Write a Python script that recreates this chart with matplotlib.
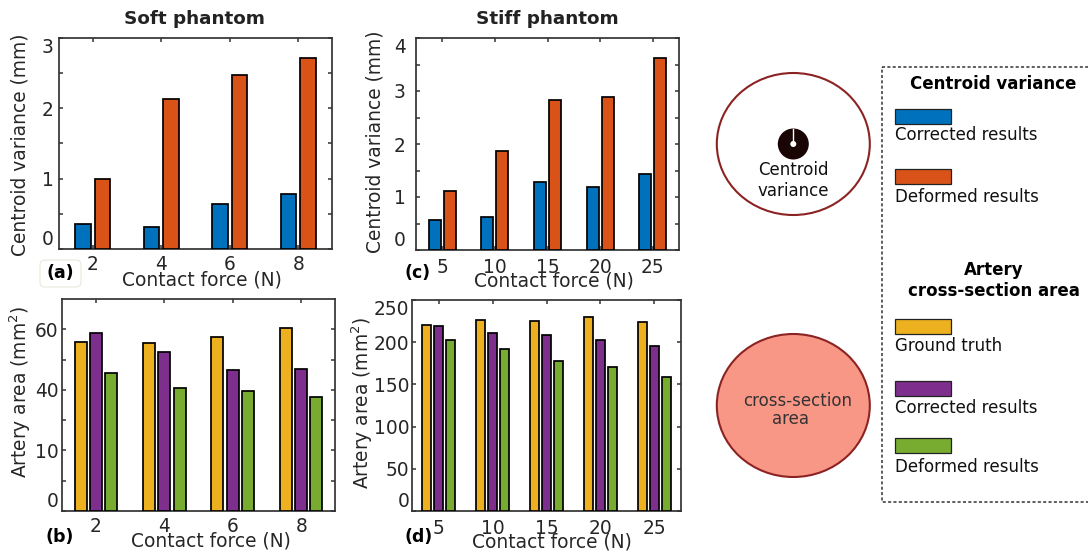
import numpy as np
import matplotlib
matplotlib.use("Agg")
import matplotlib.pyplot as plt
from matplotlib.patches import Ellipse, Rectangle, FancyBboxPatch

plt.rcParams['font.family'] = 'DejaVu Sans'
plt.rcParams['mathtext.default'] = 'regular'

BLUE = '#0072BD'
ORANGE = '#D95319'
YELLOW = '#EDB120'
PURPLE = '#7E2F8E'
GREEN = '#77AC30'
TEXT = '#262626'
AXES = '#333333'
RED = '#8C2323'

force_soft = ['2', '4', '6', '8']
force_stiff = ['5', '10', '15', '20', '25']

soft_var_corrected = [0.35, 0.31, 0.645, 0.78]
soft_var_deformed = [0.995, 2.13, 2.48, 2.71]
stiff_var_corrected = [0.56, 0.625, 1.29, 1.19, 1.44]
stiff_var_deformed = [1.11, 1.87, 2.83, 2.88, 3.63]

soft_area_truth = [55.7, 55.6, 57.3, 60.3]
soft_area_corrected = [58.7, 52.5, 46.6, 46.9]
soft_area_deformed = [45.5, 40.7, 39.7, 37.8]
stiff_area_truth = [220, 226.3, 225, 229.9, 224]
stiff_area_corrected = [219, 211.3, 209, 203, 195.5]
stiff_area_deformed = [203, 192.3, 177.7, 170.6, 158.4]

W, H = 1088, 554
FS = 13.4
FS_SMALL = 12


def px_axes(x0, y0, x1, y1):
    return fig.add_axes([x0 / W, 1 - y1 / H, (x1 - x0) / W, (y1 - y0) / H])


def draw_panel(ax, labels, series, colors, width, step, ymax, yticks, yticklabels, ypad, xpad):
    x = np.arange(1, len(labels) + 1)
    n = len(series)
    for i, (vals, col) in enumerate(zip(series, colors)):
        ax.bar(x + (i - (n - 1) / 2) * step, vals, width, color=col, edgecolor='black', linewidth=1.25, zorder=3)
    ax.set_xlim(0.505, len(labels) + 0.495)
    ax.set_ylim(0, ymax)
    ax.set_xticks(x)
    ax.set_xticklabels(labels)
    ax.set_yticks(yticks)
    ax.set_yticklabels(yticklabels)
    ax.tick_params(direction='in', length=3, width=1.1, top=True, right=True, color=AXES,
                   labelcolor=TEXT, labelsize=FS)
    ax.tick_params(axis='y', pad=ypad)
    ax.tick_params(axis='x', pad=xpad)
    for s in ax.spines.values():
        s.set_linewidth(1.25)
        s.set_color(AXES)
    # end labels sit inside the axis range in the original
    ticklabs = ax.get_yticklabels()
    ticklabs[0].set_va('bottom')
    if yticks[-1] == ymax:
        ticklabs[-1].set_va('top')


fig = plt.figure(figsize=(W / 100, H / 100), dpi=100)

ax_a = px_axes(59, 38, 332, 249)
draw_panel(ax_a, force_soft, [soft_var_corrected, soft_var_deformed], [BLUE, ORANGE], 0.225, 0.287,
           3, [0, 0.5, 1, 1.5, 2, 2.5, 3], ['0', '', '1', '', '2', '', '3'], 4, 4.5)
ax_c = px_axes(416, 38, 679, 250)
draw_panel(ax_c, force_stiff, [stiff_var_corrected, stiff_var_deformed], [BLUE, ORANGE], 0.23, 0.284,
           4, [0, 0.5, 1, 1.5, 2, 2.5, 3, 3.5, 4], ['0', '', '1', '', '2', '', '3', '', '4'], 7.5, 5.5)
ax_b = px_axes(62, 299, 335, 511)
draw_panel(ax_b, force_soft, [soft_area_truth, soft_area_corrected, soft_area_deformed], [YELLOW, PURPLE, GREEN],
           0.175, 0.224, 70, [0, 10, 20, 30, 40, 50, 60], ['0', '', '10', '', '40', '', '60'], 2.5, 4.5)
ax_d = px_axes(412, 300, 681, 511)
draw_panel(ax_d, force_stiff, [stiff_area_truth, stiff_area_corrected, stiff_area_deformed], [YELLOW, PURPLE, GREEN],
           0.17, 0.224, 250, [0, 50, 100, 150, 200, 250], ['0', '50', '100', '150', '200', '250'], 2, 6)

# overlay in image pixels for titles, axis labels, panel tags, sketches and the legend box
ov = fig.add_axes([0, 0, 1, 1], zorder=10)
ov.set_xlim(0, W)
ov.set_ylim(H, 0)
ov.axis('off')
ov.patch.set_alpha(0)


def label(x, y, s, **kw):
    kw.setdefault('fontsize', FS)
    kw.setdefault('color', TEXT)
    kw.setdefault('ha', 'center')
    kw.setdefault('va', 'center')
    ov.text(x, y, s, **kw)


label(194, 19, 'Soft phantom', fontweight='bold', color='#222222', fontsize=13.2)
label(547, 19, 'Stiff phantom', fontweight='bold', color='#222222', fontsize=13.2)

ov.add_patch(FancyBboxPatch((40, 260), 41, 27, boxstyle='round,pad=0,rounding_size=5', fc='white',
                            ec='#E8E8DC', lw=0.8, mutation_aspect=1))
for x, y, s in [(60, 273, '(a)'), (60, 537, '(b)'), (418, 273, '(c)'), (419, 537, '(d)')]:
    label(x, y, s, fontweight='bold', color='black', fontsize=12.5)

for x, y in [(202, 280), (554, 281), (211, 541), (552, 542)]:
    label(x, y, 'Contact force (N)')

for x, y in [(20, 145), (375, 142)]:
    label(x, y, 'Centroid variance (mm)', rotation=90)
for x, y in [(20, 392), (362, 403)]:
    label(x, y, 'Artery area (mm$^2$)', rotation=90, rotation_mode='anchor')

# centroid sketch
ov.add_patch(Ellipse((793.3, 144), 153, 142, fc='white', ec=RED, lw=1.5))
ov.add_patch(Ellipse((793.3, 144), 31, 31, fc='#1A0505', ec='none'))
ov.plot([793.3, 793.3], [129, 144], color='white', lw=1)
ov.add_patch(Ellipse((793.3, 144), 6, 6, fc='white', ec='none'))
label(793, 170, 'Centroid', fontsize=FS_SMALL, color='#111111')
label(793, 191, 'variance', fontsize=FS_SMALL, color='#111111')

# area sketch
ov.add_patch(Ellipse((793.3, 405.5), 153, 143, fc='#F99787', ec=RED, lw=1.5))
label(798, 401, 'cross-section', fontsize=FS_SMALL, color='#333333')
label(790.5, 419, 'area', fontsize=FS_SMALL, color='#333333')

# legend box
ov.add_patch(Rectangle((882, 67), 220, 435, fc='none', ec='#333333', lw=1.1, ls=(0, (2, 1.5))))
label(993, 84, 'Centroid variance', fontweight='bold', color='black', fontsize=FS_SMALL)
label(994, 270, 'Artery', fontweight='bold', color='black', fontsize=FS_SMALL)
label(994, 291, 'cross-section area', fontweight='bold', color='black', fontsize=FS_SMALL)

legend_rows = [(108.5, BLUE, 135.5, 'Corrected results'), (168.5, ORANGE, 197, 'Deformed results'),
               (318.5, YELLOW, 346, 'Ground truth'), (381, PURPLE, 408, 'Corrected results'),
               (437.5, GREEN, 467, 'Deformed results')]
for y, col, ty, s in legend_rows:
    ov.add_patch(Rectangle((895, y), 56, 15, fc=col, ec='#222222', lw=0.9))
    label(895, ty, s, ha='left', fontsize=FS_SMALL, color='#111111')

fig.savefig('out.png', dpi=100)
